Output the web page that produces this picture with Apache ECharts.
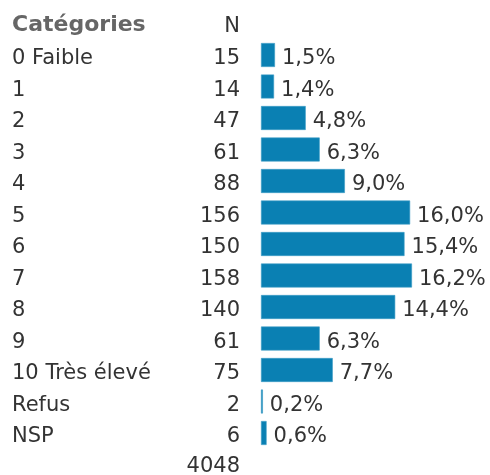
<!DOCTYPE html>
<html>
<head>
<meta charset="utf-8">
<script src="https://cdn.jsdelivr.net/npm/echarts@6/dist/echarts.min.js"></script>
<style>html,body{margin:0;padding:0;background:#fff;}#c{width:490px;height:475px;}</style>
</head>
<body>
<div id="c"></div>
<script>
const categories = ['0 Faible','1','2','3','4','5','6','7','8','9','10 Très élevé','Refus','NSP'];
const counts = [15,14,47,61,88,156,150,158,140,61,75,2,6];
const percents = [1.5,1.4,4.8,6.3,9.0,16.0,15.4,16.2,14.4,6.3,7.7,0.2,0.6];
const total = 4048;
const headerCat = 'Catégories';
const headerN = 'N';

const FONT = 'DejaVu Sans, Verdana, sans-serif';
const FS = 21;
const chart = echarts.init(document.getElementById('c'), null, {renderer:'canvas'});
chart.setOption({
  animation:false,
  backgroundColor:'#fff',
  grid:{left:261, right:42.6, top:39.25, bottom:26.25, containLabel:false},
  xAxis:{type:'value', min:0, max:20, show:false},
  yAxis:[
    {type:'category', data:categories, inverse:true, position:'left',
     axisLine:{show:false}, axisTick:{show:false}, splitLine:{show:false},
     axisLabel:{align:'left', verticalAlign:'top', lineHeight:8, margin:249, color:'#333', fontFamily:FONT, fontSize:FS}},
    {type:'category', data:counts.map(String), inverse:true, position:'left',
     axisLine:{show:false}, axisTick:{show:false}, splitLine:{show:false},
     axisLabel:{align:'right', verticalAlign:'top', lineHeight:8, margin:21, color:'#333', fontFamily:FONT, fontSize:FS}}
  ],
  series:[{
    type:'bar', data:percents, yAxisIndex:0, barCategoryGap:'24%',
    itemStyle:{color:'#0a80b3', borderColor:'#3d9cc6', borderWidth:0.6},
    label:{show:true, position:'right', distance:7, offset:[0,4], color:'#333', fontFamily:FONT, fontSize:FS,
      formatter:p=>p.value.toFixed(1).replace('.',',')+'%'}
  }],
  graphic:[
    {type:'text', left:12, top:14, style:{text:headerCat, font:'bold 22px '+FONT, fill:'#666'}},
    {type:'text', x:240, y:27, style:{text:headerN, font:FS+'px '+FONT, fill:'#333', align:'right', verticalAlign:'middle'}},
    {type:'text', x:240, y:467, style:{text:String(total), font:FS+'px '+FONT, fill:'#333', align:'right', verticalAlign:'middle'}}
  ]
});
</script>
</body>
</html>
